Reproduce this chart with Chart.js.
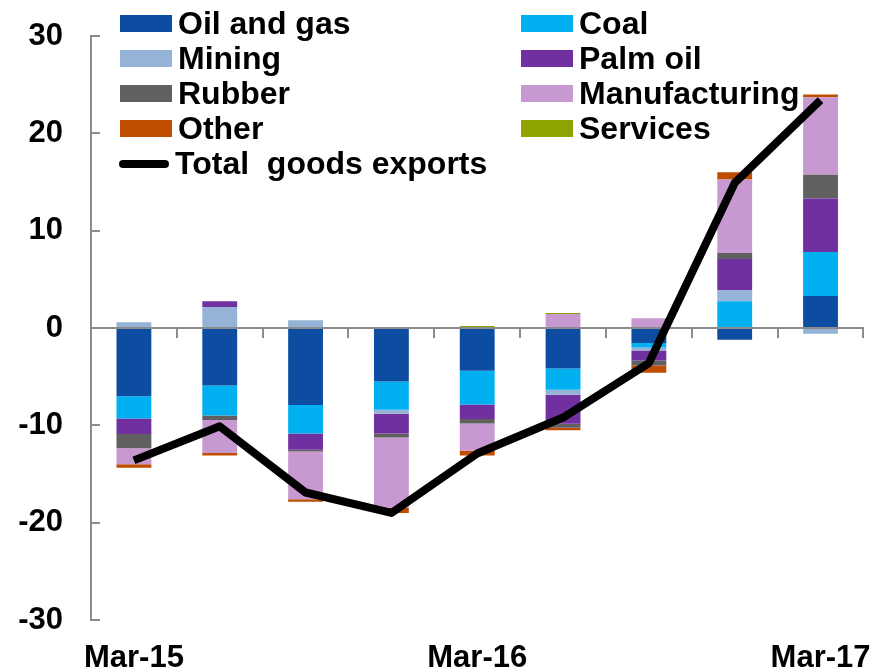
<!DOCTYPE html>
<html>
<head>
<meta charset="utf-8">
<title>Export growth contributions</title>
<script src="https://cdn.jsdelivr.net/npm/chart.js@4.4.1/dist/chart.umd.min.js"></script>
<style>
    body { margin: 0; background: #fff; }
    #wrap { position: relative; width: 875px; height: 671px; }
    #legend { position: absolute; left: 0; top: 0; }
    .item { position: absolute; height: 30px; display: flex; align-items: center;
            font: bold 32px "Liberation Sans", Arial, sans-serif; color: #000; white-space: pre; }
    .swatch { width: 52px; height: 17px; margin-right: 6px; }
    .stroke { width: 50px; height: 8px; border-radius: 4px; background: #000; margin: 0 6px 0 -1px; }
</style>
</head>
<body>
<div id="wrap">
    <canvas id="myChart" width="875" height="671"></canvas>
    <div id="legend"></div>
</div>
<script>
//Data (percentage points, quarterly)
let quarters = ["Mar-15", "Jun-15", "Sep-15", "Dec-15", "Mar-16", "Jun-16", "Sep-16", "Dec-16", "Mar-17"];
let oilGas = [-7.0, -5.9, -7.9, -5.5, -4.4, -4.15, -1.55, -1.2, 3.3];
let coal = [-2.3, -3.1, -2.95, -2.9, -3.45, -2.2, -0.45, 2.75, 4.5];
let mining = [0.6, 2.15, 0.8, -0.4, 0, -0.5, -0.3, 1.15, -0.6];
let palmOil = [-1.6, 0.6, -1.65, -2.05, -1.5, -3.0, -1.05, 3.2, 5.5];
let rubber = [-1.45, -0.45, -0.2, -0.4, -0.45, -0.4, -0.5, 0.6, 2.45];
let manufacturing = [-1.65, -3.4, -4.9, -7.25, -2.8, 1.45, 1.0, 7.55, 7.95];
let other = [-0.35, -0.25, -0.25, -0.5, -0.5, -0.25, -0.75, 0.75, 0.3];
let services = [0, 0, 0, 0, 0.2, 0.1, 0, 0, 0];
let totalGoods = [-13.6, -10.1, -16.9, -19.0, -12.9, -9.2, -3.6, 14.9, 23.4];
let yTicks = [-30, -20, -10, 0, 10, 20, 30];

let axisGrey = '#8c8c8c';
let font = { family: '"Liberation Sans", Arial, sans-serif', size: 31, weight: 'bold' };

function barSet(label, data, color) {
    return {
        type: 'bar',
        label: label,
        data: data,
        backgroundColor: color,
        borderWidth: 0,
        barPercentage: 0.406,
        categoryPercentage: 1,
        order: 1
    };
}

let canvasElement = document.getElementById("myChart").getContext('2d');
let config = {
    data: {
        labels: quarters,
        datasets: [
            barSet("Oil and gas", oilGas, '#0c4da2'),
            barSet("Coal", coal, '#00b0f0'),
            barSet("Mining", mining, '#95b3d7'),
            barSet("Palm oil", palmOil, '#7030a0'),
            barSet("Rubber", rubber, '#606060'),
            barSet("Manufacturing", manufacturing, '#c899d0'),
            barSet("Other", other, '#c04e00'),
            barSet("Services", services, '#8fa300'),
            {
                type: 'line',
                label: "Total  goods exports",
                data: totalGoods,
                stack: 'total',
                borderColor: '#000',
                backgroundColor: '#000',
                borderWidth: 8,
                borderJoinStyle: 'round',
                pointRadius: 0,
                tension: 0,
                order: 0
            }
        ]
    },
    options: {
        responsive: false,
        animation: false,
        devicePixelRatio: 1,
        layout: { padding: { top: 36, right: 9, left: 0, bottom: 0 } },
        plugins: { legend: { display: false }, tooltip: { enabled: false } },
        scales: {
            x: {
                stacked: true,
                offset: true,
                border: { display: false },
                grid: { drawOnChartArea: false, drawTicks: true, tickLength: 16, color: 'rgba(0,0,0,0)' },
                ticks: {
                    autoSkip: false,
                    maxRotation: 0,
                    padding: 4,
                    color: '#000',
                    font: font,
                    callback: function (value, index) {
                        return index % 4 === 0 ? quarters[index] : '';
                    }
                },
                afterFit: function (scale) { scale.height = 51; }
            },
            // zero line with category tick marks
            x2: {
                type: 'category',
                position: { y: 0 },
                offset: true,
                border: { display: true, color: axisGrey, width: 2 },
                grid: { offset: true, drawOnChartArea: false, drawTicks: true, tickLength: 9, color: axisGrey, lineWidth: 2 },
                ticks: { display: false }
            },
            y: {
                stacked: true,
                min: -30,
                max: 30,
                border: { display: true, color: axisGrey, width: 2 },
                grid: { drawOnChartArea: false, drawTicks: true, tickLength: -9, color: axisGrey, lineWidth: 2 },
                afterBuildTicks: function (scale) {
                    scale.ticks = yTicks.map(v => ({ value: v }));
                },
                ticks: { padding: 37, color: '#000', font: font },
                afterFit: function (scale) {
                    // tick padding is only meant to push labels left, not to shrink the plot
                    scale.width = 91;
                    scale.paddingTop = 19;
                    scale.paddingBottom = 19;
                }
            }
        }
    }
};

let myChart = new Chart(canvasElement, config);

//Legend, two columns in the top of the plot
function buildLegend(chart) {
    let box = document.getElementById("legend");
    chart.data.datasets.forEach(function (ds, i) {
        let item = document.createElement('div');
        item.className = 'item';
        let col = i % 2;
        let row = Math.floor(i / 2);
        item.style.left = (col === 0 ? 120 : 521) + 'px';
        item.style.top = (8 + row * 35.2) + 'px';
        let mark = document.createElement('span');
        if (ds.type === 'line') {
            mark.className = 'stroke';
        } else {
            mark.className = 'swatch';
            mark.style.background = ds.backgroundColor;
        }
        item.appendChild(mark);
        item.appendChild(document.createTextNode(ds.label));
        box.appendChild(item);
    });
}

buildLegend(myChart);
</script>
</body>
</html>
